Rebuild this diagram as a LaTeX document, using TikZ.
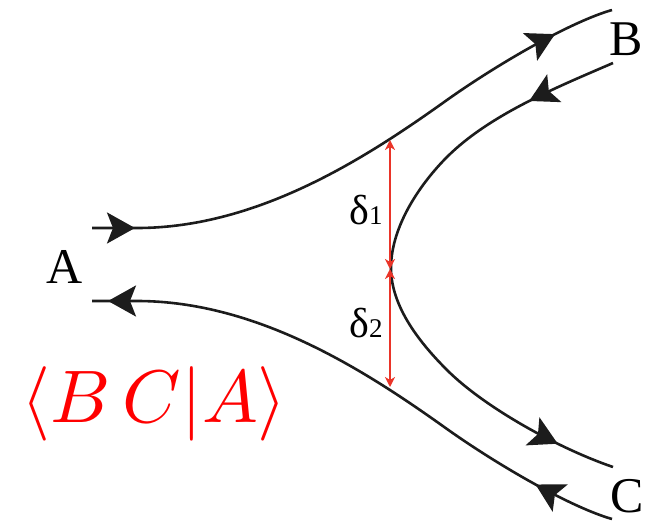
\documentclass[tikz,border=0pt]{standalone}
\usepackage{fontspec}
\setmainfont{Liberation Serif}
\newfontfamily\lblfont{Liberation Serif}
\usetikzlibrary{arrows.meta,decorations.markings}
\definecolor{curve}{RGB}{28,28,28}
\definecolor{gap}{RGB}{234,52,40}
\tikzset{
  flow/.style={draw=curve, line width=2.6pt},
  bigtip/.tip={Stealth[length=28pt,width=31pt,inset=6pt]},
  gaparrow/.style={draw=gap, line width=2.2pt, {Stealth[length=10pt,width=10pt,inset=3pt]}-{Stealth[length=10pt,width=10pt,inset=3pt]}},
  endlabel/.style={font=\lblfont\fontsize{50}{60}\selectfont, anchor=base, inner sep=0pt},
  dlabel/.style={font=\lblfont\fontsize{42}{48}\selectfont, anchor=base, inner sep=0pt},
}
\newcommand{\mysub}[1]{\raisebox{-0.01em}{\lblfont\fontsize{27}{30}\selectfont #1}}
\begin{document}
\begin{tikzpicture}[x=1pt,y=-1pt]
\useasboundingbox (0,0) rectangle (648,522);
% coordinates
\coordinate (a1) at (92,228);
\coordinate (a2) at (92,301);
\coordinate (b1) at (612,10);
\coordinate (b2) at (613,63);
\coordinate (c1) at (613,467);
\coordinate (c2) at (612,519);
\coordinate (v) at (391,268);
\coordinate (up) at (390,140);
\coordinate (mid) at (390,269);
\coordinate (lo) at (390,387);
% upper curve A -> B
\path[flow, postaction={decorate}, decoration={markings,
   mark=at position 43pt with {\arrow{bigtip}},
   mark=at position -62pt with {\arrow{bigtip}}}]
  (a1) -- (137,228) .. controls (260,228) and (370,155) .. (447,100)
       .. controls (497,64.5) and (570,22) .. (b1);
% lower curve C -> A
\path[flow, postaction={decorate}, decoration={markings,
   mark=at position 16pt with {\arrowreversed{bigtip}},
   mark=at position -84pt with {\arrowreversed{bigtip}}}]
  (a2) -- (137,301) .. controls (260,301) and (370,374) .. (447,429)
       .. controls (497,464.5) and (570,507) .. (c2);
% middle curve B -> C
\path[flow, postaction={decorate}, decoration={markings,
   mark=at position 92pt with {\arrow{bigtip}},
   mark=at position -60pt with {\arrow{bigtip}}}]
  (b2) .. controls (560,86) and (490,114) .. (447,157)
       .. controls (422,182) and (391,225) .. (v)
       .. controls (391,308) and (422,345) .. (447,370)
       .. controls (485,408) and (560,449) .. (c1);
% gap arrows
\draw[gaparrow] (up) -- (mid);
\draw[gaparrow] (mid) -- (lo);
% labels
\node[endlabel] (A) at (65,283) {A};
\node[endlabel] (B) at (626,55) {B};
\node[endlabel] (C) at (627,512) {C};
\node[dlabel] (d1) at (366,224) {δ\mysub{1}};
\node[dlabel] (d2) at (366,337) {δ\mysub{2}};
\node[anchor=base, inner sep=0pt, text=red] (bra) at (154,422) {\scalebox{7.45}{$\langle B\,C|A\rangle$}};
\end{tikzpicture}
\end{document}
